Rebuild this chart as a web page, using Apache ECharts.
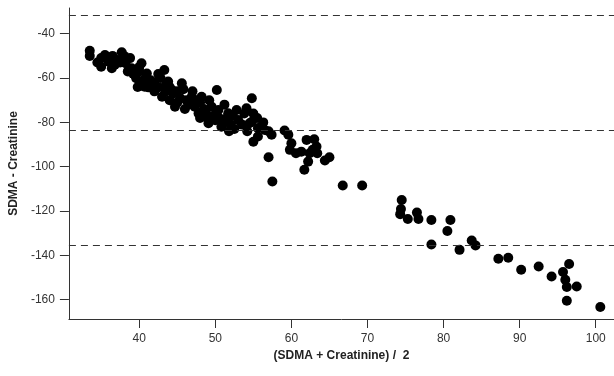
<!DOCTYPE html>
<html>
<head>
<meta charset="utf-8">
<script src="https://cdn.jsdelivr.net/npm/echarts@6/dist/echarts.min.js"></script>
<style>html,body{margin:0;padding:0;background:#fff;}#c{width:614px;height:376px;}</style>
</head>
<body>
<div id="c"></div>
<script>
var xTicks = [40, 50, 60, 70, 80, 90, 100];
var yTicks = [-40, -60, -80, -100, -120, -140, -160];
var limitLines = [-31.7, -83.5, -135.3];
var meanX = [33.5,33.5,35.5,35.0,36.0,36.4,37.1,37.7,38.2,39.0,40.3,39.6,40.8,40.7,41.2,42.5,43.3,42.5,43.8,43.0,44.3,45.6,45.4,44.7,46.9,48.2,47.3,50.2,49.5,50.4,49.1,51.7,52.8,54.1,54.8,54.8,53.0,
34.5,36.8,37.5,38.5,39.2,40.0,41.0,41.5,42.0,42.8,43.5,44.0,44.5,45.0,45.8,46.2,46.5,47.0,47.5,48.0,48.5,48.8,49.2,49.8,50.0,50.5,51.0,51.2,51.5,52.0,52.3,52.5,53.5,53.8,54.2,55.0,55.5,56.0,56.3,57.0,45.0,44.0,43.5,42.0,41.8,40.5,39.8,46.0,47.8,48.0,49.0,50.8,51.8,38.0,36.5,35.0,38.8,40.0,
54.5,55.6,56.5,57.4,55.0,55.6,57.0,57.5,59.1,59.6,60.0,59.8,60.6,61.3,62.0,63.0,62.4,62.2,63.3,63.4,62.8,61.7,64.4,65.0,66.75,69.3,
74.5,74.4,74.3,75.3,76.5,76.7,78.4,78.4,80.5,80.9,82.1,83.7,84.2,87.2,88.5,90.2,92.5,94.2,95.7,96.0,96.2,96.5,97.5,96.2,100.6];
var diffY = [-47.7,-50.0,-49.6,-54.9,-52.6,-55.6,-51.9,-48.4,-53.3,-55.6,-53.3,-60.1,-60.1,-63.9,-64.2,-58.2,-56.4,-64.2,-61.6,-68.4,-65.4,-62.4,-69.1,-72.9,-68.4,-68.4,-72.9,-65.4,-72.9,-74.4,-80.4,-75.9,-74.4,-73.6,-69.1,-79.7,-78.9,
-53.0,-54.0,-53.0,-57.0,-58.0,-57.0,-58.0,-61.0,-62.0,-60.0,-63.0,-64.0,-67.0,-66.0,-65.0,-70.0,-72.0,-66.0,-70.0,-71.0,-74.0,-76.0,-70.0,-77.0,-79.0,-78.0,-80.0,-72.0,-78.0,-81.0,-77.0,-83.0,-81.0,-76.0,-84.0,-76.0,-78.0,-82.0,-80.0,-84.0,-71.0,-70.0,-66.0,-66.0,-63.0,-62.0,-64.0,-74.0,-76.0,-78.0,-78.0,-82.0,-84.0,-50.0,-50.0,-51.0,-51.0,-55.0,
-80.4,-82.6,-83.4,-85.6,-88.7,-86.4,-95.7,-106.7,-83.7,-85.6,-89.4,-92.4,-93.9,-93.2,-87.9,-87.6,-93.9,-97.7,-90.9,-93.9,-92.4,-101.4,-97.2,-95.7,-108.5,-108.5,
-115.0,-119.1,-121.4,-123.6,-120.7,-123.6,-124.0,-135.1,-129.0,-124.0,-137.5,-133.3,-135.5,-141.5,-141.1,-146.5,-145.0,-149.5,-147.5,-151.0,-154.3,-143.9,-154.0,-160.5,-163.3];

var pts = meanX.map(function (x, i) { return [x, diffY[i]]; });
var font = 'Liberation Sans, Arial, sans-serif';
var chart = echarts.init(document.getElementById('c'));
chart.setOption({
  animation: false,
  backgroundColor: '#fff',
  grid: { left: 67, top: 8, right: 0, bottom: 57 },
  xAxis: {
    type: 'value', min: 30.76, max: 102.4,
    name: '(SDMA + Creatinine) /  2', nameLocation: 'middle', nameGap: 26,
    nameTextStyle: { fontFamily: font, fontSize: 12, fontWeight: 'bold', color: '#222' },
    axisLine: { show: true, lineStyle: { color: '#333', width: 1 } },
    axisTick: { show: true, length: 9, lineStyle: { color: '#333' }, customValues: xTicks },
    axisLabel: { fontFamily: font, fontSize: 12, color: '#333', margin: 14, customValues: xTicks },
    splitLine: { show: false }
  },
  yAxis: {
    type: 'value', min: -168.7, max: -28.4,
    name: 'SDMA - Creatinine', nameLocation: 'middle', nameGap: 36, nameRotate: 90,
    nameTextStyle: { fontFamily: font, fontSize: 12, fontWeight: 'bold', color: '#222' },
    axisLine: { show: true, lineStyle: { color: '#333', width: 1 } },
    axisTick: { show: true, length: 9, lineStyle: { color: '#333' }, customValues: yTicks },
    axisLabel: { fontFamily: font, fontSize: 12, color: '#333', margin: 14, customValues: yTicks },
    splitLine: { show: false }
  },
  series: [{
    type: 'scatter',
    data: pts,
    symbolSize: 10,
    itemStyle: { color: '#000', opacity: 1 },
    markLine: {
      silent: true,
      symbol: ['none', 'none'],
      label: { show: false },
      lineStyle: { color: '#333', type: [7, 5], width: 1 },
      data: limitLines.map(function (v) { return { yAxis: v }; })
    }
  }]
});
</script>
</body>
</html>
